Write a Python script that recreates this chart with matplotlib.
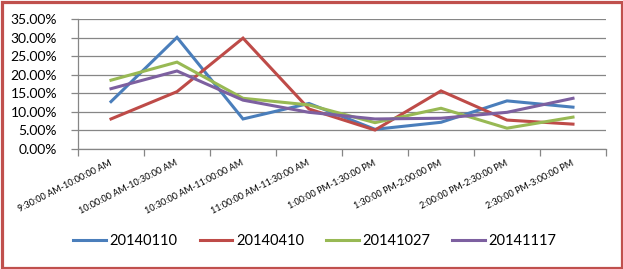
import matplotlib
matplotlib.use("Agg")
import matplotlib.pyplot as plt
from matplotlib.ticker import PercentFormatter, FixedLocator, MultipleLocator
from matplotlib.patches import Rectangle

categories = ["9:30:00 AM-10:00:00 AM", "10:00:00 AM-10:30:00 AM", "10:30:00 AM-11:00:00 AM",
              "11:00:00 AM-11:30:00 AM", "1:00:00 PM-1:30:00 PM", "1:30:00 PM-2:00:00 PM",
              "2:00:00 PM-2:30:00 PM", "2:30:00 PM-3:00:00 PM"]
s_20140110 = [0.127, 0.301, 0.080, 0.122, 0.052, 0.071, 0.129, 0.112]
s_20140410 = [0.080, 0.154, 0.299, 0.107, 0.050, 0.156, 0.077, 0.066]
s_20141027 = [0.185, 0.234, 0.136, 0.118, 0.070, 0.109, 0.055, 0.085]
s_20141117 = [0.162, 0.210, 0.131, 0.098, 0.080, 0.082, 0.098, 0.136]
series_names = ["20140110", "20140410", "20141027", "20141117"]
colors = ["#4A7EBB", "#BE4B48", "#98B954", "#7D60A0"]

plt.rcParams['font.family'] = ['Lato', 'DejaVu Sans']

fig = plt.figure(figsize=(6.23, 2.69), dpi=100)
ax = fig.add_axes([78/623, 1-148.5/269, 528/623, (148.5-19.3)/269])

x = list(range(len(categories)))
for vals, name, c in zip([s_20140110, s_20140410, s_20141027, s_20141117], series_names, colors):
    ax.plot(x, vals, color=c, lw=2.2, label=name, solid_joinstyle='miter', zorder=3)

ax.set_xlim(-0.5, len(categories) - 0.5)
ax.set_ylim(0, 0.35)
ax.yaxis.set_major_locator(MultipleLocator(0.05))
ax.yaxis.set_major_formatter(PercentFormatter(1, decimals=2))
ax.grid(axis='y', color='#868686', lw=0.9, zorder=1)

gray = '#868686'
for s in ['top', 'right']:
    ax.spines[s].set_visible(False)
for s in ['left', 'bottom']:
    ax.spines[s].set_color(gray)
    ax.spines[s].set_linewidth(0.9)

ax.xaxis.set_major_locator(FixedLocator([i - 0.5 for i in range(len(categories) + 1)]))
ax.xaxis.set_minor_locator(FixedLocator(x))
ax.set_xticklabels([])
ax.set_xticklabels(categories, minor=True)
ax.tick_params(axis='x', which='major', length=5, color=gray, direction='out', width=0.9)
ax.tick_params(axis='x', which='minor', length=0, pad=10)
for lab in ax.get_xticklabels(minor=True):
    lab.set_rotation(27)
    lab.set_ha('right')
    lab.set_va('center')
    lab.set_rotation_mode('anchor')
    lab.set_fontsize(6.5)
    lab.set_color('#000000')
ax.tick_params(axis='y', length=5, color=gray, direction='out', width=0.9, labelsize=10, pad=10)

leg = fig.legend(loc='center', bbox_to_anchor=(315/623, 1-241/269), ncol=4, frameon=False,
                 fontsize=10.5, handlelength=2.25, handletextpad=0.25, columnspacing=1.5)

fig.patches.append(Rectangle((1.5/623, 1.5/269), 1-3/623, 1-3/269, transform=fig.transFigure,
                             fill=False, edgecolor='#C0504D', lw=2.3, zorder=10))

fig.savefig("out.png", dpi=100)
